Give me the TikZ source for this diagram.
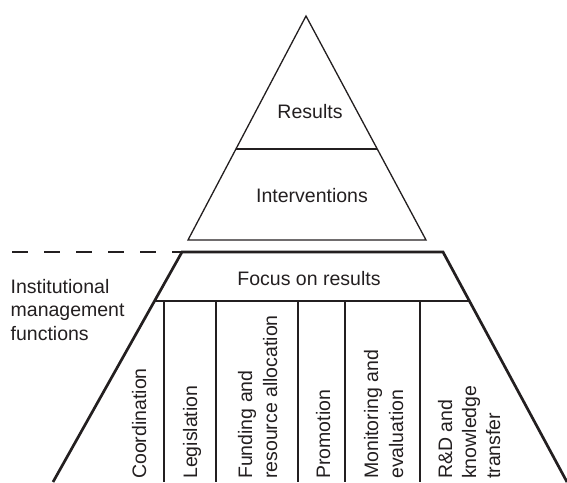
\documentclass[tikz,border=0pt]{standalone}
\usepackage{fontspec}
\setmainfont{Liberation Sans}
\usetikzlibrary{calc}
\definecolor{ink}{RGB}{35,31,32}
\begin{document}
\begin{tikzpicture}[x=1pt,y=-1pt,
  thinline/.style={draw=ink,line width=1.3pt},
  thickline/.style={draw=ink,line width=2.7pt},
  lbl/.style={text=ink,inner sep=0pt,font=\fontsize{19.5}{24}\selectfont},
  vlbl/.style={lbl,rotate=90,anchor=base west}]
\useasboundingbox (0,0) rectangle (567,482);
% upper triangle
\coordinate (apex) at (306,16);
\coordinate (tbl) at (188,240);
\coordinate (tbr) at (426,240);
\draw[thinline,line join=miter] (apex) -- (tbl) -- (tbr) -- cycle;
\coordinate (dl) at ($(apex)!0.594!(tbl)$);
\coordinate (dr) at ($(apex)!0.594!(tbr)$);
\draw[thinline] (dl) -- (dr);
\node[lbl,anchor=base] (results) at (310,118) {Results};
\node[lbl,anchor=base] (interv) at (312,202) {Interventions};
% lower trapezoid
\coordinate (TL) at (182,252);
\coordinate (TR) at (443,252);
\coordinate (BL) at (53,482);
\coordinate (BR) at (567,482);
\coordinate (dstart) at (12,252);
\draw[thickline,dash pattern=on 15.5pt off 16.5pt] (dstart) -- (TL);
\draw[thickline,line join=miter] (BL) -- (TL) -- (TR) -- (BR);
\coordinate (fl) at ($(TL)!0.213!(BL)$);
\coordinate (fr) at ($(TR)!0.213!(BR)$);
\draw[thinline] (fl) -- (fr);
\node[lbl,anchor=base] (focus) at (309,285) {Focus on results};
\foreach \x/\n in {164/a,216/b,298/c,345/d,420/e}{
  \coordinate (c\n top) at (\x,301);
  \coordinate (c\n bot) at (\x,482);
  \draw[thinline] (c\n top) -- (c\n bot);
}
% side label
\node[lbl,anchor=base west] (inst1) at (10.5,293) {Institutional};
\node[lbl,anchor=base west] (inst2) at (10.5,316.5) {management};
\node[lbl,anchor=base west] (inst3) at (10.5,340) {functions};
% column labels
\node[vlbl] (coord) at (146,479) {Coordination};
\node[vlbl] (legis) at (197,479) {Legislation};
\node[vlbl] (fund1) at (252,479) {Funding and};
\node[vlbl] (fund2) at (277,479) {resource allocation};
\node[vlbl] (promo) at (330,479) {Promotion};
\node[vlbl] (mon1) at (378,479) {Monitoring and};
\node[vlbl] (mon2) at (403,479) {evaluation};
\node[vlbl] (rd1) at (452,479) {R\&D and};
\node[vlbl] (rd2) at (476,479) {knowledge};
\node[vlbl] (rd3) at (500,479) {transfer};
\end{tikzpicture}
\end{document}
